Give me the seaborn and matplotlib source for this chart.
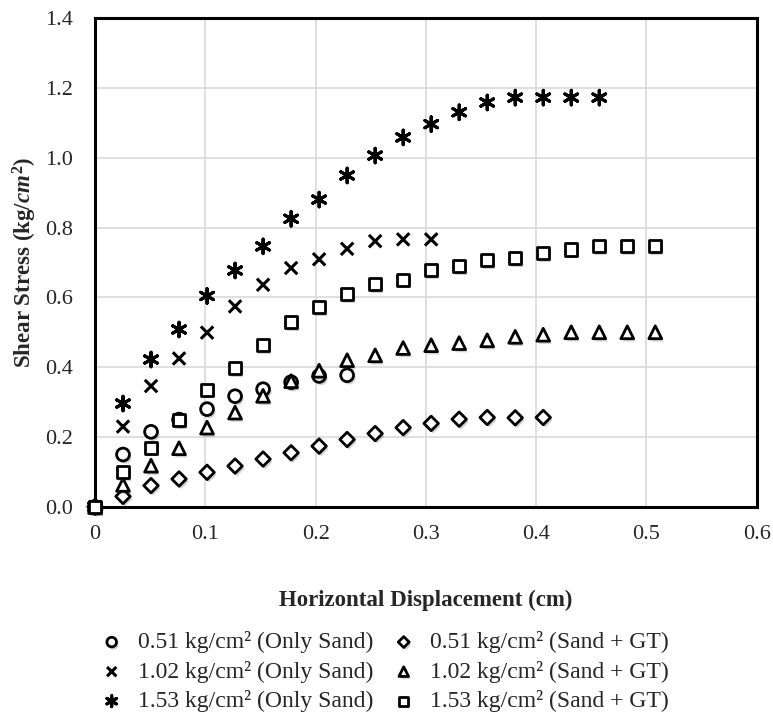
import numpy as np
import pandas as pd
import matplotlib
matplotlib.use('Agg')
import matplotlib.pyplot as plt
import matplotlib.patheffects as pe
import seaborn as sns

# horizontal displacement steps (cm), 0.025 in increments
disp = [0, 0.0254, 0.0508, 0.0762, 0.1016, 0.127, 0.1524, 0.1778, 0.2032, 0.2286,
        0.254, 0.2794, 0.3048, 0.3302, 0.3556, 0.381, 0.4064, 0.4318, 0.4572,
        0.4826, 0.508]

sand_051 = [0, 0.15, 0.215, 0.25, 0.28, 0.317, 0.337, 0.357, 0.375, 0.377]
sand_102 = [0, 0.23, 0.346, 0.425, 0.499, 0.574, 0.636, 0.684, 0.709, 0.739,
            0.761, 0.766, 0.766]
sand_153 = [0, 0.296, 0.422, 0.508, 0.604, 0.677, 0.746, 0.825, 0.88, 0.949,
            1.006, 1.058, 1.096, 1.13, 1.158, 1.172, 1.172, 1.172, 1.172]
gt_051 = [0, 0.03, 0.061, 0.08, 0.099, 0.117, 0.137, 0.155, 0.174, 0.193,
          0.21, 0.227, 0.239, 0.251, 0.256, 0.255, 0.256]
gt_102 = [0, 0.063, 0.118, 0.168, 0.227, 0.27, 0.318, 0.36, 0.39, 0.42,
          0.434, 0.455, 0.463, 0.469, 0.477, 0.487, 0.493, 0.50, 0.50, 0.50, 0.50]
gt_153 = [0, 0.099, 0.17, 0.249, 0.336, 0.398, 0.463, 0.53, 0.572, 0.61,
          0.639, 0.651, 0.677, 0.69, 0.706, 0.712, 0.727, 0.737, 0.747, 0.747, 0.747]

labels = ['0.51 kg/cm² (Only Sand)', '1.02 kg/cm² (Only Sand)', '1.53 kg/cm² (Only Sand)',
          '0.51 kg/cm² (Sand + GT)', '1.02 kg/cm² (Sand + GT)', '1.53 kg/cm² (Sand + GT)']
series = [sand_051, sand_102, sand_153, gt_051, gt_102, gt_153]
markers = ['o', 'x', (6, 2, 0), 'D', '^', 's']
sizes = [85, 80, 110, 55, 85, 75]

sns.set_style('white')
plt.rcParams['font.family'] = ['Liberation Serif', 'DejaVu Serif']
plt.rcParams['mathtext.fontset'] = 'custom'
plt.rcParams['mathtext.it'] = 'Liberation Serif:italic:bold'
plt.rcParams['mathtext.rm'] = 'Liberation Serif:bold'

fig = plt.figure(figsize=(7.73, 7.19), dpi=100)
ax = fig.add_axes([0.1229, 0.295, 0.979 - 0.1229, 0.975 - 0.295])

shadow = [pe.SimplePatchShadow(offset=(1.5, -2), alpha=0.25), pe.Normal()]
for lab, y, m, s in zip(labels, series, markers, sizes):
    df = pd.DataFrame({'x': disp[:len(y)], 'y': y})
    if m in ('x', (6, 2, 0)):
        sns.scatterplot(data=df, x='x', y='y', marker=m, s=s, color='black',
                        linewidth=2.2, label=lab, ax=ax, zorder=3, clip_on=False)
    else:
        sns.scatterplot(data=df, x='x', y='y', marker=m, s=s, facecolor='white',
                        edgecolor='black', linewidth=2.0, label=lab, ax=ax, zorder=3,
                        clip_on=False)
for coll in ax.collections:
    coll.set_path_effects(shadow)

ax.set_xlim(0, 0.6)
ax.set_ylim(0, 1.4)
ax.set_xticks(np.arange(0, 0.61, 0.1))
ax.set_xticklabels(['0', '0.1', '0.2', '0.3', '0.4', '0.5', '0.6'])
ax.set_yticks(np.arange(0, 1.41, 0.2))
ax.set_yticklabels(['%.1f' % v for v in np.arange(0, 1.41, 0.2)])
ax.tick_params(labelsize=16, length=0)
ax.tick_params(axis='x', pad=13)
ax.tick_params(axis='y', pad=16)
ax.grid(True, color='#d9d9d9', linewidth=1.2)
ax.set_axisbelow(True)
for sp in ax.spines.values():
    sp.set_visible(True)
    sp.set_color('black')
    sp.set_linewidth(2.2)

ax.set_xlabel('Horizontal Displacement (cm)', fontsize=16.5, fontweight='bold', labelpad=33)
ax.set_ylabel(r'Shear Stress (kg/$cm^2$)', fontsize=16.5, fontweight='bold', labelpad=4)

ax.get_legend().remove()
handles, labs = ax.get_legend_handles_labels()
fig.legend(handles, labs, loc='upper center', bbox_to_anchor=(0.497, 0.145), ncol=2,
           frameon=False, fontsize=17, handletextpad=0.6, columnspacing=0.8,
           labelspacing=0.32, markerscale=0.75, handlelength=1.0, borderpad=0.2)

fig.savefig('out.png', dpi=100)
